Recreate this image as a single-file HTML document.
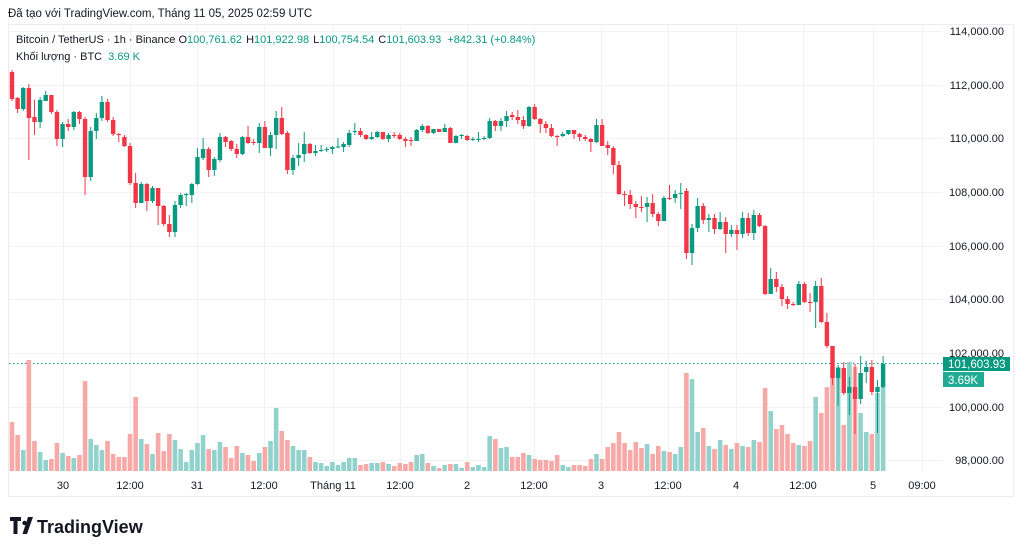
<!DOCTYPE html>
<html><head><meta charset="utf-8"><style>
body{margin:0;background:#fff;width:1024px;height:554px;overflow:hidden;font-family:"Liberation Sans","DejaVu Sans",sans-serif;}
svg text{font-family:"Liberation Sans","DejaVu Sans",sans-serif;}
</style></head><body>
<svg id="s" width="1024" height="554" xmlns="http://www.w3.org/2000/svg">
<rect x="8.5" y="24.5" width="1005" height="472" fill="#fff" stroke="#ececec"/>
<g id="grid" stroke="#f2f2f2" stroke-width="1"></g>
<line x1="9" y1="363.5" x2="942" y2="363.5" stroke="#089981" stroke-dasharray="1.5,2.5"/>
<g id="vol"></g>
<g id="c"></g>
<text x="8" y="17" font-size="11.5" fill="#131722">Đã tạo với TradingView.com, Tháng 11 05, 2025 02:59 UTC</text>
<text x="16" y="43" font-size="11" fill="#131722">Bitcoin / TetherUS · 1h · Binance  <tspan>O</tspan><tspan fill="#089981">100,761.62</tspan><tspan dx="4">H</tspan><tspan fill="#089981">101,922.98</tspan><tspan dx="4">L</tspan><tspan fill="#089981">100,754.54</tspan><tspan dx="4">C</tspan><tspan fill="#089981">101,603.93</tspan><tspan dx="6" fill="#089981">+842.31 (+0.84%)</tspan></text>
<text x="16" y="60" font-size="11" fill="#131722">Khối lượng · BTC  <tspan fill="#089981" dx="3">3.69 K</tspan></text>
<g font-size="11" fill="#131722" id="pl"></g>
<rect x="943" y="357" width="67" height="14" fill="#089981"/>
<text x="948" y="368" font-size="11.5" fill="#fff">101,603.93</text>
<rect x="943" y="372" width="41" height="15" fill="#22ab94"/>
<text x="948" y="384" font-size="11.5" fill="#fff">3.69K</text>
<g font-size="11" fill="#131722" text-anchor="middle">
<text x="63" y="489">30</text><text x="130" y="489">12:00</text><text x="197" y="489">31</text><text x="264" y="489">12:00</text><text x="333" y="489">Tháng 11</text><text x="400" y="489">12:00</text><text x="467" y="489">2</text><text x="534" y="489">12:00</text><text x="601" y="489">3</text><text x="668" y="489">12:00</text><text x="736" y="489">4</text><text x="803" y="489">12:00</text><text x="873" y="489">5</text><text x="922" y="489">09:00</text>
</g>
<g transform="translate(10,517)" fill="#131722">
<path d="M0 0H11V4H7.5V17H3.5V4H0Z"/><circle cx="14.5" cy="6" r="2.2"/><path d="M18 0H23L17 17H12.5Z"/>
</g>
<text x="37" y="533" font-size="18" font-weight="bold" fill="#131722">TradingView</text>
</svg>
<script>
var NS="http://www.w3.org/2000/svg";
function el(p,t,a){var e=document.createElementNS(NS,t);for(var k in a)e.setAttribute(k,a[k]);p.appendChild(e);return e;}
var g=document.getElementById('grid');
[31,85,138,192,246,299,353,407,460].forEach(function(y){el(g,'line',{x1:9,x2:942,y1:y+.5,y2:y+.5});});
[63,130,197,264,333,400,467,534,601,668,736,803,873,922].forEach(function(x){el(g,'line',{x1:x+.5,x2:x+.5,y1:25,y2:471});});
var pl=document.getElementById('pl');
var pv=["114,000.00","112,000.00","110,000.00","108,000.00","106,000.00","104,000.00","102,000.00","100,000.00","98,000.00"];
[31,85,138,192,246,299,353,407,460].forEach(function(y,i){var t=el(pl,'text',{x:1004,y:y+4,'text-anchor':'end'});t.textContent=pv[i];});
var D="72,99,70,101;98,109,97,113;109,88,87,111;88,118,84,160;117,122,100,135;122,100,97,128;101,95,91,101;95,112,95,114;112,139,110,146;139,124,122,147;124,127,119,131;127,112,111,130;112,119,111,124;119,177,117,195;177,131,127,181;131,118,113,139;118,102,96,121;102,120,99,122;120,134,117,136;134,135,133,142;137,146,135,147;146,183,143,185;183,203,173,208;203,184,182,203;184,201,183,211;201,188,186,203;188,206,188,225;206,224,205,226;224,232,215,237;232,205,201,237;205,195,193,208;195,194,193,206;195,184,183,203;184,157,148,185;158,149,138,160;149,170,147,177;170,159,157,176;160,137,133,162;137,142,136,147;141,149,140,151;149,154,144,158;154,137,136,155;137,143,126,144;142,142.5,139,145;143,127,123,153;127,148,121,148;148,135,132,156;135,118,111,149;118,134,107,135;133,170,131,174;170,158,155,175;158,155,143,166;154,144,132,162;144,153,143,154;153,151,145,156;151,150,145,152;150,149,147,152;149,147,146,154;147,146.5,138,148;147,144,142,152;145,133,130,147;132,131,123,135;131,135,128,137;135,139,134,140;139,137,132,140;137,132,131,138;132,139,132,140;139,135,133,142;135,136,132,138;135,139,133,140;139,141,137,147;140,141,137,146;141,130,129,141;130,126,124,132;126,133,125,134;133,129,129,134;129,132,129,132;132,128,124,132;128,143,127,143;143,136,135,143;136,135,134,139;136,140,135,141;140,139,137,141;140,139,132,142;139,138,136,140;138,121,118,139;121,126,120,131;126,121,118,131;121,116,111,127;115,117,112,120;117,120,110,124;120,126,116,129;126,107,106,127;107,119,104,120;119,124,118,133;124,128,121,133;128,136,124,137;136,136.5,135,146;136,134,132,137;134,130,130,135;130,134,130,139;134,137,133,141;137,139,135,141;139,142,138,152;142,125,119,143;125,146,119,146;145,148,141,155;148,165,146,174;165,194,161,195;194,195,191,206;195,204,190,209;204,207,201,218;207,207.5,196,212;207,203,197,222;203,214,194,217;214,221,212,226;221,198,196,221;198,199,185,200;198,194,190,203;194,193,183,209;191,253,188,259;253,228,224,265;228,206,198,232;206,220,203,224;220,218,214,232;218,229,214,234;229,222,212,230;222,234,217,253;234,230,225,237;230,234,225,250;234,218,212,238;218,233,213,236;233,215,210,240;215,226,213,227;226,294,225,295;294,279,268,294;279,287,272,292;287,299,284,306;299,304,296,309;304,305,302,306;305,284,281,305;284,302,282,303;302,302.5,293,312;302,286,281,328;286,322,278,323;322,346,313,348;346,378,346,385;378,368,365,406;368,393,362,395;393,387,377,415;387,399,364,434;399,373,356,404;372,367,361,383;367,392,360,395;392,387,380,433;387,364,356,388".split(';');
var V=[422,435,450,360,441,452,460,459,443,453,456,458,455,381,439,445,450,441,454,457,457,434,397,439,444,454,433,451,434,440,449,462,450,443,435,449,450,442,447,458,446,453,455,461,453,447,441,408,431,440,446,450,450,457,462,463,466,462,465,462,458,458,465,464,463,463,462,464,466,463,464,462,455,454,463,466,468,465,464,464,468,462,467,465,467,436,439,448,447,457,457,453,455,459,460,460,461,455,465,467,465,465,466,459,454,459,447,443,432,443,450,442,448,444,454,446,451,452,454,447,373,379,432,428,446,449,440,445,449,443,446,447,440,442,388,411,429,425,434,443,445,446,441,397,413,387,367,367,425,362,367,413,432,434,393,387];
var cg=document.getElementById('c'),vg=document.getElementById('vol');
D.forEach(function(s,i){
 var a=s.split(',').map(Number),o=a[0],c=a[1],h=a[2],l=a[3];
 var x=12+i*5.62,up=c<=o,col=up?'#089981':'#F23645';
 var vy=V[i]||460;
 el(vg,'rect',{x:x-2.3,y:vy,width:4.6,height:471-vy,fill:up?'#92D2CC':'#F7A9A7'});
 el(cg,'line',{x1:x,x2:x,y1:h,y2:l,stroke:col,'stroke-width':1});
 var t=Math.min(o,c),b=Math.max(o,c);if(b-t<1)b=t+1;
 el(cg,'rect',{x:x-2.2,y:t,width:4.4,height:b-t,fill:col});
});
</script>
</body></html>
